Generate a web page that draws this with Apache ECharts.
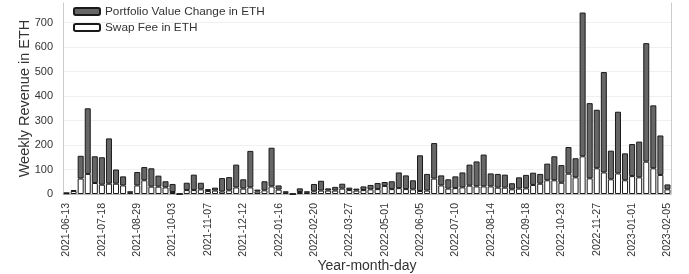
<!DOCTYPE html>
<html>
<head>
<meta charset="utf-8">
<script src="https://cdn.jsdelivr.net/npm/echarts@6/dist/echarts.min.js"></script>
<style>
  html, body { margin: 0; padding: 0; background: #fff; }
  #chart { width: 689px; height: 274px; }
</style>
</head>
<body>
<div id="chart"></div>
<script>
// weekly dates (one week missing in August 2021)
var weeks = [];
(function () {
    var d = new Date(Date.UTC(2021, 5, 13));
    while (weeks.length < 86) {
        var s = d.toISOString().slice(0, 10);
        if (s !== '2021-08-22') weeks.push(s);
        d.setUTCDate(d.getUTCDate() + 7);
    }
})();

// Swap fee part (white, bottom)
var swapFee = [
    3, 12, 63, 82, 45, 38, 42, 42, 35, 5,
    35, 56, 30, 30, 27, 8, 0, 16, 16, 19,
    12, 14, 10, 15, 27, 22, 27, 10, 15, 31,
    18, 5, 0, 8, 5, 11, 14, 14, 14, 22,
    16, 14, 16, 19, 20, 33, 20, 24, 20, 19,
    12, 14, 63, 35, 22, 24, 27, 34, 31, 31,
    31, 26, 26, 19, 22, 23, 37, 42, 56, 56,
    46, 83, 68, 154, 64, 105, 88, 60, 84, 56,
    73, 68, 132, 105, 78, 19
];

// Portfolio value change part (gray, stacked on top)
var portfolioChange = [
    2, 4, 93, 268, 109, 112, 185, 58, 37, 6,
    55, 54, 75, 45, 25, 33, 0, 30, 63, 27,
    8, 12, 55, 54, 93, 38, 149, 8, 37, 158,
    17, 6, 0, 15, 6, 30, 40, 9, 15, 20,
    10, 8, 15, 18, 25, 16, 32, 64, 56, 37,
    146, 68, 145, 41, 38, 48, 61, 86, 102, 130,
    53, 56, 53, 25, 46, 55, 50, 40, 68, 98,
    72, 109, 78, 587, 307, 239, 410, 117, 252, 110,
    131, 146, 484, 257, 161, 20
];

var myChart = echarts.init(document.getElementById('chart'));

var option = {
    animation: false,
    textStyle: { fontFamily: 'Liberation Sans, Arial, sans-serif' },
    grid: { left: 63, right: 18, top: 3, bottom: 80, outerBoundsMode: 'none' },
    legend: {
        orient: 'vertical',
        left: 73,
        top: 5,
        padding: 0,
        itemWidth: 26,
        itemHeight: 7,
        itemGap: 3,
        data: ['Portfolio Value Change in ETH', 'Swap Fee in ETH'],
        textStyle: { fontSize: 11.8, color: '#333', lineHeight: 13 }
    },
    xAxis: {
        type: 'category',
        data: weeks,
        name: 'Year-month-day',
        nameLocation: 'middle',
        nameGap: 65,
        nameMoveOverlap: false,
        nameTextStyle: { fontSize: 14, color: '#333' },
        axisTick: { show: false },
        axisLine: { lineStyle: { color: '#bbb' } },
        axisLabel: {
            rotate: 90,
            interval: 4,
            fontSize: 10.5,
            color: '#333',
            margin: 9
        }
    },
    yAxis: [{
        type: 'value',
        min: 0,
        max: 780,
        interval: 100,
        name: 'Weekly Revenue in ETH',
        nameLocation: 'middle',
        nameGap: 31,
        nameMoveOverlap: false,
        nameTextStyle: { fontSize: 14.5, color: '#333' },
        axisLine: { show: true, lineStyle: { color: '#ccc' } },
        axisTick: { show: false },
        axisLabel: { fontSize: 11, color: '#333', margin: 10, showMaxLabel: false },
        splitLine: { showMaxLine: false, lineStyle: { color: '#f0f0f0' } }
    }, {
        type: 'value',
        min: 0,
        max: 780,
        position: 'right',
        axisLine: { show: true, lineStyle: { color: '#ccc' } },
        axisTick: { show: false },
        axisLabel: { show: false },
        splitLine: { show: false }
    }],
    series: [{
        name: 'Swap Fee in ETH',
        type: 'bar',
        stack: 'total',
        barWidth: '85%',
        data: swapFee,
        itemStyle: { color: '#ffffff', borderColor: '#1a1a1a', borderWidth: 1 }
    }, {
        name: 'Portfolio Value Change in ETH',
        type: 'bar',
        stack: 'total',
        barWidth: '85%',
        data: portfolioChange,
        itemStyle: { color: '#666666', borderColor: '#1a1a1a', borderWidth: 1 }
    }]
};

myChart.setOption(option);

window.addEventListener('resize', function () {
    myChart.resize();
});
</script>
</body>
</html>
